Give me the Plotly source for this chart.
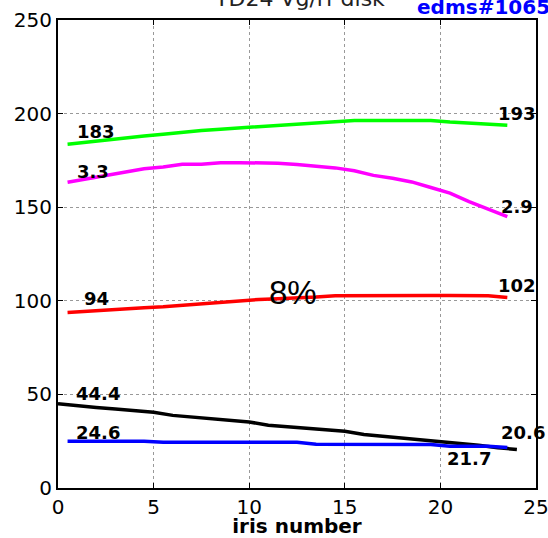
import plotly.graph_objects as go

x_half = [i + 0.5 for i in range(24)]
x_black = list(range(25))

green = [183.6, 184.8, 186, 187, 188, 189, 190.2, 191, 191.7, 192.4, 193, 193.8,
         194.6, 195.2, 195.8, 196.3, 196.3, 196.3, 196.3, 196.3, 195.5, 195, 194.6, 193.8]
magenta = [163.3, 165, 166.8, 168.5, 170.5, 171.5, 172.9, 173, 173.7, 173.8, 173.7, 173.5,
           172.8, 172, 171, 169.5, 167, 165.5, 163.5, 160.5, 157.5, 153, 149, 145]
red = [93.8, 94.5, 95.2, 95.8, 96.3, 96.8, 97.6, 98.5, 99.3, 100, 100.7, 101.1,
       101.4, 102, 102.7, 102.8, 102.8, 102.8, 102.8, 102.8, 102.8, 102.8, 102.7, 101.8]
black = [45, 43.8, 43, 42.2, 41.3, 40.5, 38.8, 38, 37.1, 36.2, 35.3, 33.5, 32.7,
         31.9, 31.1, 30.3, 28.6, 27.7, 26.8, 25.9, 25, 24, 22.8, 21.5, 20.6]
blue = [25, 25, 25, 25, 25, 24.4, 24.4, 24.4, 24.4, 24.4, 24.4, 24.4,
        24.4, 23.4, 23.4, 23.4, 23.4, 23.4, 23.4, 23.2, 22.3, 22.3, 22.3, 21.6]

labels = ["183", "3.3", "94", "44.4", "24.6", "193", "2.9", "102", "20.6", "21.7"]
label_x = [2.0, 1.83, 2.0, 2.09, 2.09, 24.0, 24.0, 24.0, 24.3, 21.5]
label_y = [190.7, 169, 101.4, 50.7, 29.9, 200.3, 150.6, 108.2, 29.4, 15.5]

FONT = "DejaVu Sans"

fig = go.Figure()
for xs, ys, c in [(x_half, green, "#00ff00"), (x_half, magenta, "#ff00ff"),
                  (x_half, red, "#ff0000"), (x_black, black, "#000000"),
                  (x_half, blue, "#0000ff")]:
    fig.add_trace(go.Scatter(x=xs, y=ys, mode="lines",
                             line=dict(color=c, width=3.5), showlegend=False))

for t, xx, yy in zip(labels, label_x, label_y):
    fig.add_annotation(x=xx, y=yy, text="<b>%s</b>" % t, showarrow=False,
                       font=dict(family=FONT, size=18, color="black"))

fig.add_annotation(x=12.3, y=104.5, text="8%", showarrow=False,
                   font=dict(family="Arial", size=33, color="black"))

fig.add_annotation(xref="paper", yref="paper", x=0.506, y=1, yanchor="bottom",
                   yshift=7, text="TD24 Vg/rf disk", showarrow=False,
                   font=dict(family=FONT, size=22, color="#222222"))
fig.add_annotation(xref="paper", yref="paper", x=0.747, y=1, xanchor="left",
                   yanchor="bottom", yshift=-1, text="<b>edms#1065651</b>",
                   showarrow=False, font=dict(family=FONT, size=20, color="#0000ff"))

axis_common = dict(showline=True, linecolor="black", linewidth=2, mirror="ticks",
                   ticks="inside", ticklen=5, tickcolor="black",
                   showgrid=True, gridcolor="#999999", griddash="dot", gridwidth=1,
                   zeroline=False, automargin=False, ticklabeloverflow="allow",
                   tickfont=dict(family=FONT, size=20, color="black"))

fig.update_xaxes(range=[0, 25], tickvals=[0, 5, 10, 15, 20, 25],
                 title=dict(text="<b>iris number</b>", standoff=3,
                            font=dict(family=FONT, size=20, color="black")),
                 **axis_common)
fig.update_yaxes(range=[0, 250], tickvals=[0, 50, 100, 150, 200, 250], **axis_common)

fig.update_layout(width=548, height=538, margin=dict(l=58, r=12, t=20, b=50),
                  plot_bgcolor="white", paper_bgcolor="white")

fig.write_html("out.html", config={"displayModeBar": False},
               post_script="document.body.style.margin='0';document.body.style.overflow='hidden';")
